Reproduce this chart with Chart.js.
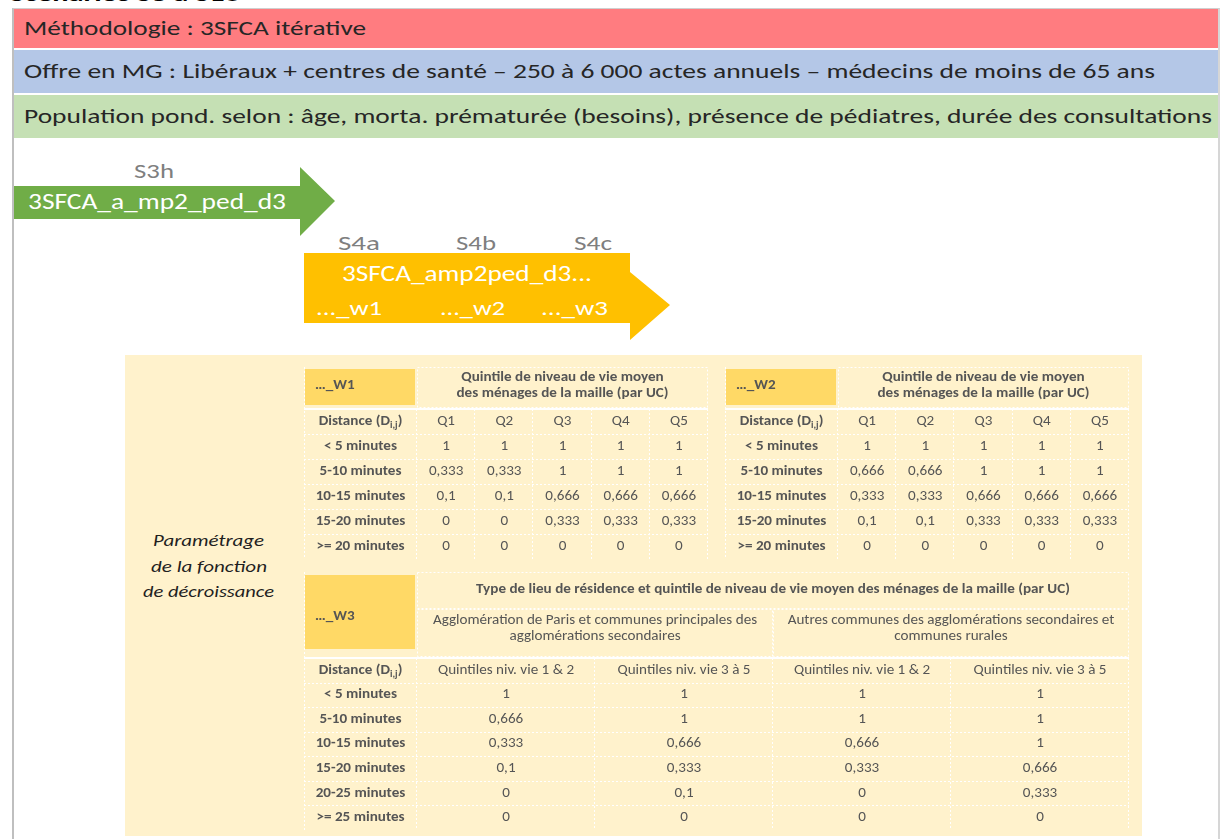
<!DOCTYPE html>
<html lang="fr">
<head>
<meta charset="utf-8">
<title>3SFCA itérative - paramétrage</title>
<script src="https://cdn.jsdelivr.net/npm/chart.js@4.4.1/dist/chart.umd.min.js"></script>
<style>
  html, body { margin: 0; padding: 0; }
  body { width: 1220px; height: 839px; overflow: hidden; position: relative; background: #fff;
         font-family: Carlito, Lato, "Noto Sans", sans-serif; color: #262626; }
  .abs { position: absolute; }
  .fit { position: absolute; white-space: nowrap; line-height: 1.2; transform-origin: 0 50%; }
  #titre { left: 10px; top: -18px; font-weight: bold; font-size: 21px; color: #000; }
  #cadre { left: 12px; top: 8px; width: 1204px; height: 850px; border-left: 2px solid #bfbfbf;
           border-top: 1px solid #cfcfcf; border-right: 2px solid #d6d6d6; }
  .bande { left: 14px; width: 1204px; }
  .bande .fit { left: 10px; top: 0; font-size: 19.5px; }
  #rouge { top: 9px; height: 39px; background: #FF7C80; }
  #bleu { top: 50px; height: 43px; background: #B4C7E7; }
  #vert { top: 95px; height: 43px; background: #C5E0B4; }
  #fleche1 { left: 14px; top: 167px; width: 321px; height: 69px; background: #70AD47;
             clip-path: polygon(0 19px, 286px 19px, 286px 0, 321px 34px, 286px 69px, 286px 52px, 0 52px); }
  #fleche2 { left: 304px; top: 253px; width: 366px; height: 87px; background: #FFC000;
             clip-path: polygon(0 0, 326px 0, 326px 19px, 366px 52px, 326px 87px, 326px 70px, 0 70px); }
  .blanc { color: #fff; }
  .gris { color: #7f7f7f; }
  #fond { left: 125px; top: 355px; width: 1017px; height: 481px; background: #FFF2CC; }
  .param { font-style: italic; font-size: 17px; color: #1f1f1f; }
  canvas { position: absolute; }
</style>
</head>
<body>

<div id="titre" class="fit" data-w="230">Scénarios S3 à S10</div>
<div id="cadre" class="abs"></div>

<div id="rouge" class="abs bande"><span class="fit" style="line-height:39px" data-w="342">Méthodologie : 3SFCA itérative</span></div>
<div id="bleu" class="abs bande"><span class="fit" style="line-height:43px" data-w="1131">Offre en MG : Libéraux + centres de santé – 250 à 6 000 actes annuels – médecins de moins de 65 ans</span></div>
<div id="vert" class="abs bande"><span class="fit" style="line-height:43px" data-w="1188">Population pond. selon : âge, morta. prématurée (besoins), présence de pédiatres, durée des consultations</span></div>

<div id="fleche1" class="abs"></div>
<div id="fleche2" class="abs"></div>

<span class="fit gris" style="left:134px; top:159px; font-size:20px" data-w="40">S3h</span>
<span class="fit blanc" style="left:28px; top:188px; font-size:23px" data-w="258">3SFCA_a_mp2_ped_d3</span>

<span class="fit gris" style="left:338px; top:231px; font-size:20px" data-w="42">S4a</span>
<span class="fit gris" style="left:456px; top:231px; font-size:20px" data-w="40">S4b</span>
<span class="fit gris" style="left:574px; top:231px; font-size:20px" data-w="38">S4c</span>
<span class="fit blanc" style="left:342px; top:261px; font-size:22px" data-w="250">3SFCA_amp2ped_d3...</span>
<span class="fit blanc" style="left:316px; top:296px; font-size:21px" data-w="66">..._w1</span>
<span class="fit blanc" style="left:440px; top:296px; font-size:21px" data-w="65">..._w2</span>
<span class="fit blanc" style="left:541px; top:296px; font-size:21px" data-w="67">..._w3</span>

<div id="fond" class="abs"></div>
<span class="fit param" style="left:153px; top:531px" data-w="111">Paramétrage</span>
<span class="fit param" style="left:151px; top:557px" data-w="116">de la fonction</span>
<span class="fit param" style="left:143px; top:582px" data-w="131">de décroissance</span>

<canvas id="w1" width="404" height="192" style="left:304px; top:367px"></canvas>
<canvas id="w2" width="404" height="192" style="left:725px; top:367px"></canvas>
<canvas id="w3" width="825" height="258" style="left:304px; top:572px"></canvas>

<script>
// valeurs des tableaux de pondération
const quintiles = ['Q1', 'Q2', 'Q3', 'Q4', 'Q5'];
const distances20 = ['< 5 minutes', '5-10 minutes', '10-15 minutes', '15-20 minutes', '>= 20 minutes'];
const distances25 = ['< 5 minutes', '5-10 minutes', '10-15 minutes', '15-20 minutes', '20-25 minutes', '>= 25 minutes'];
const quintilesW3 = ['Quintiles niv. vie 1 & 2', 'Quintiles niv. vie 3 à 5', 'Quintiles niv. vie 1 & 2', 'Quintiles niv. vie 3 à 5'];

const w1Values = [
    [1, 1, 1, 1, 1],
    [0.333, 0.333, 1, 1, 1],
    [0.1, 0.1, 0.666, 0.666, 0.666],
    [0, 0, 0.333, 0.333, 0.333],
    [0, 0, 0, 0, 0]
];
const w2Values = [
    [1, 1, 1, 1, 1],
    [0.666, 0.666, 1, 1, 1],
    [0.333, 0.333, 0.666, 0.666, 0.666],
    [0.1, 0.1, 0.333, 0.333, 0.333],
    [0, 0, 0, 0, 0]
];
// colonnes : Paris Q1-2, Paris Q3-5, Autres Q1-2, Autres Q3-5
const w3Values = [
    [1, 1, 1, 1],
    [0.666, 1, 1, 1],
    [0.333, 0.666, 0.666, 1],
    [0.1, 0.333, 0.333, 0.666],
    [0, 0.1, 0, 0.333],
    [0, 0, 0, 0]
];

const enTeteQuintile = ['Quintile de niveau de vie moyen', 'des ménages de la maille (par UC)'];
const enTeteW3 = ['Type de lieu de résidence et quintile de niveau de vie moyen des ménages de la maille (par UC)'];
const groupeParis = ['Agglomération de Paris et communes principales des', 'agglomérations secondaires'];
const groupeAutres = ['Autres communes des agglomérations secondaires et', 'communes rurales'];

// ajuste la largeur des textes HTML
document.querySelectorAll('.fit').forEach(function (el) {
    const w = +el.dataset.w;
    const nat = el.getBoundingClientRect().width;
    if (w && nat) el.style.transform = 'scaleX(' + (w / nat) + ')';
});

const FONT = 'Carlito, Lato, sans-serif';
const FS = 13.5;   // taille du texte des tableaux
const SX = 1.12;   // étirement horizontal
const GRIS = '#555555';

function fmt(v) {
    return String(v).replace('.', ',');
}

function line(ctx, x0, y0, x1, y1) {
    ctx.beginPath();
    ctx.moveTo(x0, y0);
    ctx.lineTo(x1, y1);
    ctx.stroke();
}

function txt(ctx, s, x, y, align) {
    ctx.save();
    ctx.translate(x, y);
    ctx.scale(SX, 1);
    ctx.textAlign = align || 'center';
    ctx.fillText(s, 0, 0);
    ctx.restore();
}

function tablePlugin(t) {
    return {
        id: 'tableau',
        afterDraw: function (chart) {
            const ctx = chart.ctx;
            const a = chart.chartArea;
            const xs = chart.scales.x, ys = chart.scales.y;
            const nCols = t.cols.length, nRows = t.rows.length + 1;
            const colLeft = function (c) { return xs.getPixelForValue(c - 0.5); };
            ctx.save();

            // case jaune
            ctx.fillStyle = '#FFD966';
            ctx.fillRect(1, t.corner.top, a.left - 3, t.corner.bottom - t.corner.top);

            // traits pointillés blancs
            ctx.strokeStyle = '#ffffff';
            ctx.lineWidth = 1;
            ctx.setLineDash([2, 2]);
            for (let r = 0; r <= nRows; r++) {
                const y = Math.round(ys.getPixelForValue(r - 0.5)) + 0.5;
                line(ctx, 0, y, a.right, y);
            }
            for (let c = 0; c <= nCols; c++) {
                const x = Math.round(xs.getPixelForValue(c - 0.5)) - 0.5;
                line(ctx, x, a.top, x, a.bottom);
            }
            line(ctx, 0.5, 0, 0.5, a.bottom);
            t.heads.forEach(function (h) {
                const x0 = Math.round(colLeft(h.from)) + 0.5, x1 = Math.round(colLeft(h.to + 1)) - 0.5;
                ctx.strokeRect(x0, h.top + 0.5, x1 - x0, h.bottom - h.top);
            });
            ctx.setLineDash([]);
            ctx.lineWidth = 2;
            line(ctx, 0, a.top, a.right, a.top);

            // en-têtes
            ctx.fillStyle = GRIS;
            ctx.textBaseline = 'middle';
            t.heads.forEach(function (h) {
                const cx = (colLeft(h.from) + colLeft(h.to + 1)) / 2;
                ctx.font = (h.bold ? 'bold ' : '') + FS + 'px ' + FONT;
                h.lines.forEach(function (s, i) {
                    txt(ctx, s, cx, h.textY + i * 16);
                });
            });
            ctx.font = 'bold ' + FS + 'px ' + FONT;
            txt(ctx, t.corner.text, 11, t.corner.textY, 'left');

            // libellés de lignes
            const cx = a.left / 2;
            ctx.font = 'bold ' + FS + 'px ' + FONT;
            t.rows.forEach(function (s, r) {
                txt(ctx, s, cx, ys.getPixelForValue(r + 1));
            });
            // Distance (Di,j)
            const y0 = ys.getPixelForValue(0);
            const p1 = 'Distance (D', p2 = 'i,j', p3 = ')';
            const big = 'bold ' + FS + 'px ' + FONT, small = 'bold 9px ' + FONT;
            ctx.font = big;
            const w1 = ctx.measureText(p1).width * SX, w3 = ctx.measureText(p3).width * SX;
            ctx.font = small;
            const w2 = ctx.measureText(p2).width * SX;
            const x = cx - (w1 + w2 + w3) / 2;
            ctx.font = big;
            txt(ctx, p1, x, y0, 'left');
            ctx.font = small;
            txt(ctx, p2, x + w1, y0 + 4, 'left');
            ctx.font = big;
            txt(ctx, p3, x + w1 + w2, y0, 'left');

            // cellules (positions issues des jeux de données)
            ctx.font = FS + 'px ' + FONT;
            chart.data.datasets.forEach(function (ds, di) {
                chart.getDatasetMeta(di).data.forEach(function (pt, i) {
                    txt(ctx, ds.data[i].t, pt.x, pt.y);
                });
            });
            ctx.restore();
        }
    };
}

function tableChart(id, t) {
    const heads = t.cols.map(function (s, c) { return { x: c, y: 0, t: s }; });
    const cells = [];
    t.values.forEach(function (row, r) {
        row.forEach(function (v, c) { cells.push({ x: c, y: r + 1, t: fmt(v) }); });
    });
    return new Chart(document.getElementById(id), {
        type: 'scatter',
        data: {
            datasets: [
                { data: heads, pointRadius: 0 },
                { data: cells, pointRadius: 0 }
            ]
        },
        options: {
            responsive: false,
            animation: false,
            events: [],
            layout: { padding: { left: 113, top: t.headHeight, right: 0, bottom: 0 } },
            scales: {
                x: { type: 'linear', min: -0.5, max: t.cols.length - 0.5, display: false },
                y: { type: 'linear', min: -0.5, max: t.rows.length + 0.5, reverse: true, display: false }
            },
            plugins: { legend: { display: false }, tooltip: { enabled: false } }
        },
        plugins: [tablePlugin(t)]
    });
}

tableChart('w1', {
    cols: quintiles, rows: distances20, values: w1Values, headHeight: 42,
    corner: { text: '…_W1', top: 2, bottom: 38, textY: 19 },
    heads: [{ lines: enTeteQuintile, from: 0, to: 4, top: 0, bottom: 40, textY: 11, bold: true }]
});
tableChart('w2', {
    cols: quintiles, rows: distances20, values: w2Values, headHeight: 42,
    corner: { text: '…_W2', top: 2, bottom: 38, textY: 19 },
    heads: [{ lines: enTeteQuintile, from: 0, to: 4, top: 0, bottom: 40, textY: 11, bold: true }]
});
tableChart('w3', {
    cols: quintilesW3, rows: distances25, values: w3Values, headHeight: 86,
    corner: { text: '…_W3', top: 3, bottom: 77, textY: 45 },
    heads: [
        { lines: enTeteW3, from: 0, to: 3, top: 0, bottom: 36, textY: 18, bold: true },
        { lines: groupeParis, from: 0, to: 1, top: 37, bottom: 84, textY: 49, bold: false },
        { lines: groupeAutres, from: 2, to: 3, top: 37, bottom: 84, textY: 49, bold: false }
    ]
});
</script>
</body>
</html>
